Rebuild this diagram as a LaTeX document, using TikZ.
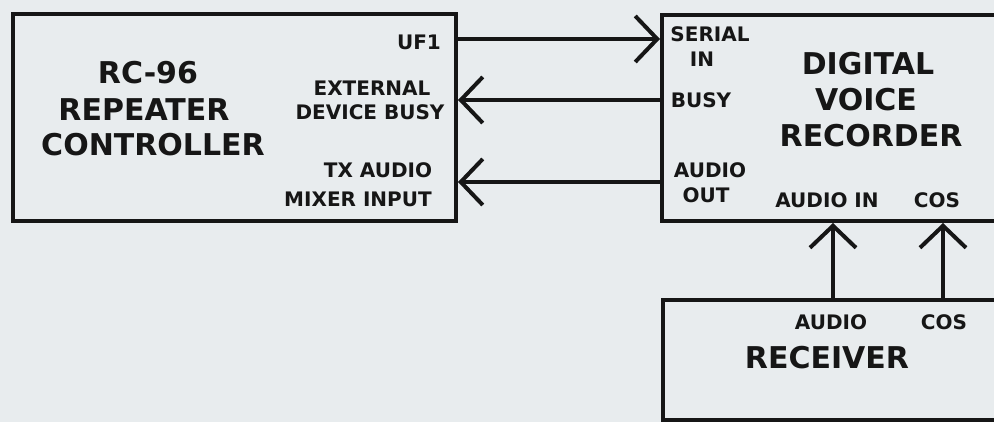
\documentclass[tikz,border=0pt]{standalone}
\usepackage{fontspec}
\setmainfont{DejaVu Sans}
\usetikzlibrary{arrows.meta}
\definecolor{paper}{RGB}{232,236,238}
\definecolor{ink}{RGB}{22,22,22}
\begin{document}
\begin{tikzpicture}[x=1pt,y=-1pt,
  box/.style={draw=ink, line width=4pt, rectangle, inner sep=0pt},
  lbl/.style={font=\fontsize{20}{24}\selectfont\bfseries, text=ink, inner sep=0pt},
  ttl/.style={font=\fontsize{30}{36}\selectfont\bfseries, text=ink, inner sep=0pt},
  arr/.style={draw=ink, line width=4pt, -{Straight Barb[length=22pt,width=46pt]}}]
\fill[paper] (0,0) rectangle (994,422);
\useasboundingbox (0,0) rectangle (994,422);
\clip (0,0) rectangle (994,422);
% boxes
\node[box, minimum width=443pt, minimum height=207pt] (rc) at (234.5,117.5) {};
\node[box, minimum width=348pt, minimum height=206pt] (dvr) at (836,118) {};
\node[box, minimum width=347pt, minimum height=120pt] (rx) at (836.5,360) {};
% titles
\node[ttl] (t1) at (148,73) {RC-96};
\node[ttl] (t2) at (144,110) {REPEATER};
\node[ttl] (t3) at (153,145) {CONTROLLER};
\node[ttl] (d1) at (868,64) {DIGITAL};
\node[ttl] (d2) at (866,100) {VOICE};
\node[ttl] (d3) at (871,136) {RECORDER};
\node[ttl] (r1) at (827,358) {RECEIVER};
% labels controller
\node[lbl] (uf) at (419,42) {UF1};
\node[lbl] (ext1) at (372,88) {EXTERNAL};
\node[lbl] (ext2) at (370,112) {DEVICE BUSY};
\node[lbl] (tx1) at (378,170) {TX AUDIO};
\node[lbl] (tx2) at (358,199) {MIXER INPUT};
% labels recorder
\node[lbl] (si1) at (710,34) {SERIAL};
\node[lbl] (si2) at (702,59) {IN};
\node[lbl] (bs) at (701,100) {BUSY};
\node[lbl] (ao1) at (710,170) {AUDIO};
\node[lbl] (ao2) at (706,195) {OUT};
\node[lbl] (ai) at (827,200) {AUDIO IN};
\node[lbl] (cs) at (937,200) {COS};
% labels receiver
\node[lbl] (ra) at (831,322) {AUDIO};
\node[lbl] (rc2) at (944,322) {COS};
% connector coordinates
\coordinate (y1) at (0,39);
\coordinate (y2) at (0,100);
\coordinate (y3) at (0,182);
\coordinate (xa) at (833,0);
\coordinate (xc) at (943,0);
\draw[arr] (rc.east |- y1) -- (dvr.west |- y1);
\draw[arr] (dvr.west |- y2) -- (rc.east |- y2);
\draw[arr] (dvr.west |- y3) -- (rc.east |- y3);
\draw[arr] (rx.north -| xa) -- (dvr.south -| xa);
\draw[arr] (rx.north -| xc) -- (dvr.south -| xc);
\end{tikzpicture}
\end{document}
